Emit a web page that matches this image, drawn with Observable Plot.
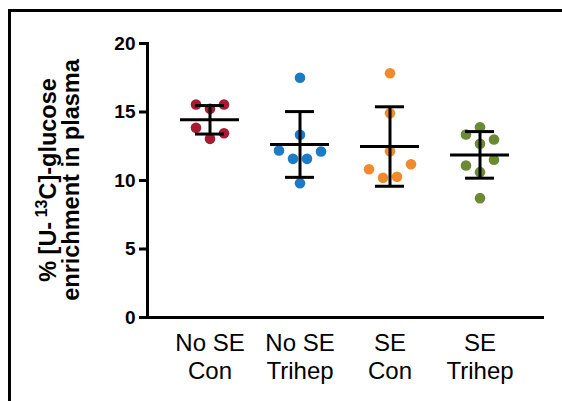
<!DOCTYPE html>
<html><head><meta charset="utf-8">
<script src="https://cdn.jsdelivr.net/npm/d3@7"></script>
<script src="https://cdn.jsdelivr.net/npm/@observablehq/plot@0.6"></script>
<style>
html,body{margin:0;padding:0;background:#fff;}
#chart{position:relative;width:562px;height:401px;}
#chart svg{display:block;}
</style></head><body><div id="chart"></div>
<script>
// ---- data ----
const groups = ["No SE Con", "No SE Trihep", "SE Con", "SE Trihep"];
const labelTop = ["No SE", "No SE", "SE", "SE"];
const labelBottom = ["Con", "Trihep", "Con", "Trihep"];
const colors = ["#A61B32", "#1B7BC6", "#F08A2C", "#6B8A33"];

const noSECon    = [15.55, 15.23, 15.55, 13.85, 13.04, 13.45];
const noSETrihep = [17.5, 13.34, 12.19, 12.12, 11.58, 11.58, 9.80];
const seCon      = [17.83, 14.91, 12.14, 10.82, 11.19, 10.20, 10.27];
const seTrihep   = [13.89, 13.36, 12.99, 12.68, 11.51, 11.09, 10.61, 8.71];
// swarm column of each point (as laid out in the reference scatter)
const colNoSECon    = [-2, 0, 2, -2, 0, 2];
const colNoSETrihep = [0, 0, -3, 3, -1, 1, 0];
const colSECon      = [0, 0, 0, -3, 3, -1, 1];
const colSETrihep   = [0, -2, 2, 0, 2, -2, 0, 0];

const means = [14.43, 12.63, 12.48, 11.87];
const sds   = [1.04, 2.40, 2.90, 1.70];
const yTicks = [0, 5, 10, 15, 20];

// ---- build tables ----
const series = [noSECon, noSETrihep, seCon, seTrihep];
const cols = [colNoSECon, colNoSETrihep, colSECon, colSETrihep];
const points = groups.flatMap((g, i) => series[i].map((v, j) => ({group: g, value: v, col: cols[i][j]})));
const stats = groups.map((g, i) => ({group: g, mean: means[i], sd: sds[i]}));

const COL_STEP = 7;
const slotValues = Array.from(new Set(points.map(d => d.col))).sort((a, b) => a - b);
const dotMarks = slotValues.map(s => Plot.dot(points.filter(d => d.col === s), {
  x: "group", y: "value", dx: s * COL_STEP, r: 5.3, fill: "group", stroke: "none"
}));

const FONT = "'Liberation Sans', Arial, sans-serif";
const chart = Plot.plot({
  width: 562, height: 401,
  marginLeft: 147, marginRight: 20, marginTop: 43, marginBottom: 84,
  style: {fontFamily: FONT, color: "black", background: "white"},
  x: {type: "band", domain: groups, paddingInner: 0.34, paddingOuter: 0.357, label: null},
  y: {domain: [0, 20], label: null},
  color: {domain: groups, range: colors},
  marks: [
    ...dotMarks,
    Plot.ruleX(stats, {x: "group", y1: d => d.mean - d.sd, y2: d => d.mean + d.sd, strokeWidth: 3, stroke: "black"}),
    Plot.tickY(stats, {x: "group", y: "mean", strokeWidth: 3, stroke: "black"}),
    Plot.tickY(stats, {x: "group", y: d => d.mean + d.sd, insetLeft: 15, insetRight: 15, strokeWidth: 3, stroke: "black"}),
    Plot.tickY(stats, {x: "group", y: d => d.mean - d.sd, insetLeft: 15, insetRight: 15, strokeWidth: 3, stroke: "black"}),
    Plot.axisY({ticks: yTicks, tickSize: 8, tickPadding: 4, fontSize: 19, fontWeight: "bold", strokeWidth: 3, label: null}),
    Plot.axisX({tickSize: 0, tickPadding: 14, fontSize: 24, lineHeight: 1.15, label: null,
      tickFormat: d => { const i = groups.indexOf(d); return labelTop[i] + "\n" + labelBottom[i]; }}),
    Plot.frame({anchor: "left", strokeWidth: 3, stroke: "black"}),
    Plot.frame({anchor: "bottom", strokeWidth: 3, stroke: "black"})
  ]
});
document.getElementById("chart").appendChild(chart);

// y-axis title (two lines, with superscript) and outer frame
const svg = d3.select(chart);
const t1 = svg.append("text")
  .attr("transform", "translate(56,180) rotate(-90)")
  .attr("text-anchor", "middle").attr("font-weight", "bold").attr("font-size", 23.5)
  .attr("font-family", FONT).attr("fill", "black");
t1.append("tspan").text("% [U-");
t1.append("tspan").attr("font-size", 16).attr("dy", -9).text(" 13");
t1.append("tspan").attr("dy", 9).text("C]-glucose");
svg.append("text")
  .attr("transform", "translate(79,180) rotate(-90)")
  .attr("text-anchor", "middle").attr("font-weight", "bold").attr("font-size", 23.5)
  .attr("font-family", FONT).attr("fill", "black")
  .text("enrichment in plasma");
svg.append("path").attr("d", "M9.5,401V10.5H562").attr("fill", "none").attr("stroke", "black").attr("stroke-width", 3);
</script></body></html>
